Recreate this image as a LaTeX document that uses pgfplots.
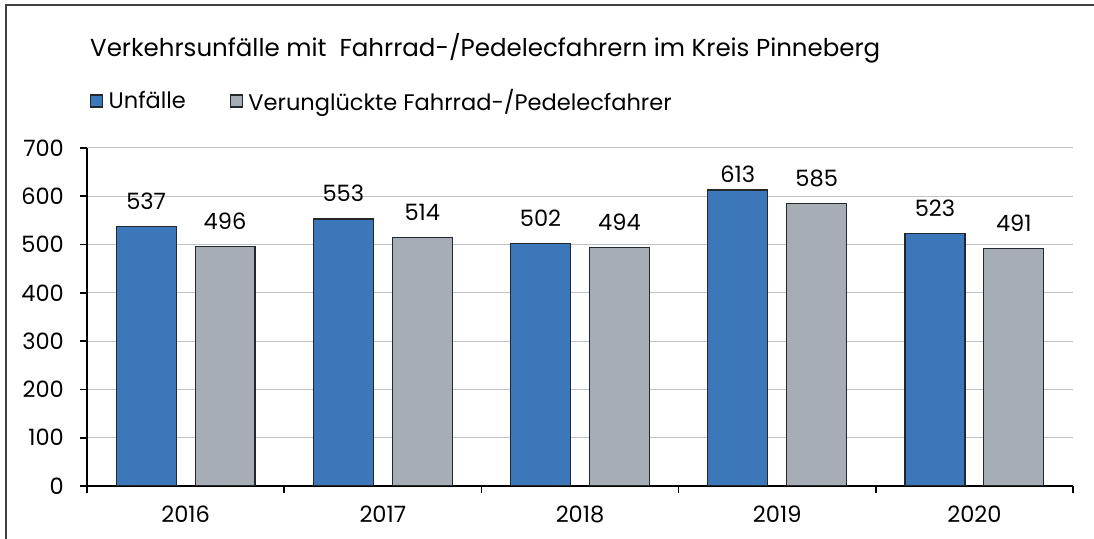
\documentclass[border=0pt]{standalone}
\usepackage{pgfplots}
\pgfplotsset{compat=1.18}
\usepackage{fontspec}
\setmainfont{Poppins}
\definecolor{cblue}{HTML}{3C78B9}
\definecolor{cgray}{HTML}{A6ADB5}
\definecolor{cgrid}{HTML}{BFC3C8}
\definecolor{cedge}{HTML}{22282E}
\newcommand\lblfont{\fontsize{22.5bp}{26bp}\selectfont}
\newcommand\ttlfont{\fontsize{24.5bp}{28bp}\selectfont}
\pgfplotstableread{
x y s
0 537 17
1 553 17
2 502 17
3 613 7
4 523 17
}\unfaelle
\pgfplotstableread{
x y s
0 496 17
1 514 17
2 494 17
3 585 17
4 491 17
}\verungl
\begin{document}
\begin{tikzpicture}[x=1bp,y=1bp]
\useasboundingbox (0,0) rectangle (1094,539);
\draw[line width=1.5bp, color=black!75] (6,-5) -- (6,534) -- (1100,534);
\node[anchor=base west, inner sep=0pt, font=\ttlfont] at (90,482) {Verkehrsunfälle mit \ Fahrrad-/Pedelecfahrern im Kreis Pinneberg};
\begin{axis}[
  at={(87bp,53bp)}, anchor=south west,
  width=986bp, height=338bp, scale only axis,
  font=\lblfont,
  xmin=-0.5, xmax=4.5, ymin=0, ymax=700,
  ytick={0,100,...,700},
  xtick={0,1,2,3,4},
  xticklabels={2016,2017,2018,2019,2020},
  minor xtick={-0.5,0.5,1.5,2.5,3.5,4.5},
  axis x line*=bottom, axis y line*=left,
  axis line style={line width=1.6bp, black, -},
  tick align=outside,
  major tick length=7bp, minor tick length=7bp,
  x tick style={draw=none},
  minor x tick style={draw=black, line width=1.6bp},
  y tick style={black, line width=1.6bp},
  ymajorgrids, grid style={cgrid, line width=1bp},
  /pgf/number format/assume math mode=true,
  every tick label/.append style={font=\lblfont},
  yticklabel style={inner sep=0pt, xshift=-16bp},
  xticklabel style={inner sep=0pt, anchor=base, yshift=-30bp},
  ybar, bar width=0.304,
  nodes near coords,
  visualization depends on={\thisrow{s} \as \labshift},
  every node near coord/.append style={font=\lblfont, anchor=base, inner sep=0pt, yshift=\labshift bp, black},
  legend columns=2,
  legend style={draw=none, fill=none, at={(0.003,1.139)}, anchor=west, inner sep=0pt,
    font=\lblfont,
    nodes={inner sep=0pt, anchor=west},
    /tikz/every even column/.append style={column sep=44bp}},
  legend image code/.code={\draw[#1, line width=1.1bp] (0bp,-6bp) rectangle (12bp,6bp); \path[draw=none, fill=none] (0bp,0bp) -- (18bp,0bp);},
]
\addplot+[bar shift=-0.2, fill=cblue, draw=cedge, line width=1.1bp] table[x=x, y=y] {\unfaelle};
\addplot+[bar shift=0.2, fill=cgray, draw=cedge, line width=1.1bp] table[x=x, y=y] {\verungl};
\legend{Unfälle, Verunglückte Fahrrad-/Pedelecfahrer}
\end{axis}
\end{tikzpicture}
\end{document}
